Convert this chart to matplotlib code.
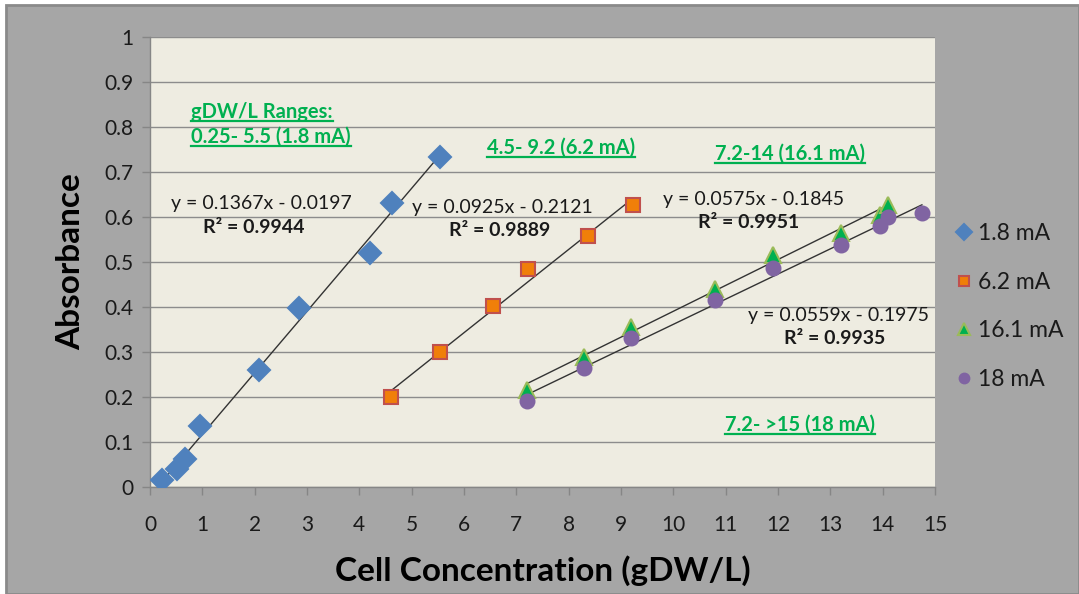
import matplotlib
matplotlib.use("Agg")
import matplotlib.pyplot as plt
import numpy as np
from matplotlib.patches import Rectangle
from matplotlib.lines import Line2D

plt.rcParams['font.family'] = ['Lato', 'DejaVu Sans']

# ---- data ----
series_labels = ["1.8 mA", "6.2 mA", "16.1 mA", "18 mA"]

x_18 = [0.23, 0.52, 0.67, 0.95, 2.09, 2.84, 4.20, 4.63, 5.54]
y_18 = [0.015, 0.040, 0.062, 0.135, 0.260, 0.398, 0.520, 0.632, 0.733]

x_62 = [4.6, 5.55, 6.55, 7.22, 8.36, 9.22]
y_62 = [0.200, 0.301, 0.402, 0.484, 0.558, 0.627]

x_161 = [7.2, 8.3, 9.2, 10.8, 11.9, 13.2, 13.95, 14.1]
y_161 = [0.215, 0.288, 0.356, 0.441, 0.515, 0.565, 0.605, 0.627]

x_180 = [7.2, 8.3, 9.2, 10.8, 11.9, 13.2, 13.95, 14.1, 14.75]
y_180 = [0.192, 0.265, 0.331, 0.416, 0.487, 0.538, 0.580, 0.600, 0.609]

slopes = [0.1367, 0.0925, 0.0575, 0.0559]
intercepts = [-0.0197, -0.2121, -0.1845, -0.1975]
eq_labels = ["y = 0.1367x - 0.0197", "y = 0.0925x - 0.2121",
             "y = 0.0575x - 0.1845", "y = 0.0559x - 0.1975"]
r2_labels = ["R² = 0.9944", "R² = 0.9889", "R² = 0.9951", "R² = 0.9935"]
range_labels = ["gDW/L Ranges:", "0.25- 5.5 (1.8 mA)", "4.5- 9.2 (6.2 mA)",
                "7.2-14 (16.1 mA)", "7.2- >15 (18 mA)"]

x_ticks = list(range(0, 16))
y_ticks = [0, 0.1, 0.2, 0.3, 0.4, 0.5, 0.6, 0.7, 0.8, 0.9, 1]
y_tick_labels = ["0", "0.1", "0.2", "0.3", "0.4", "0.5", "0.6", "0.7", "0.8", "0.9", "1"]

# ---- figure ----
W, H = 1079, 594
fig = plt.figure(figsize=(W / 100, H / 100), dpi=100)
fig.patch.set_facecolor("white")
bg = Rectangle((6 / W, 0), 1 - 6 / W, 1 - 5 / H, transform=fig.transFigure,
               facecolor="#a6a6a6", edgecolor="#8a8a8a", linewidth=2, zorder=-10)
fig.patches.append(bg)

ax = fig.add_axes([150 / W, 1 - 487 / H, (935 - 150) / W, (487 - 37) / H])
ax.set_zorder(1)
ax.set_facecolor("#eeece1")
ax.set_xlim(0, 15)
ax.set_ylim(0, 1)
for s in ["top", "right"]:
    ax.spines[s].set_visible(False)
for s in ["left", "bottom"]:
    ax.spines[s].set_color("#868686")
    ax.spines[s].set_linewidth(1)
ax.set_xticks(x_ticks)
ax.set_yticks(y_ticks)
ax.set_yticklabels(y_tick_labels)
ax.tick_params(axis="both", colors="#868686", labelcolor="#1a1a1a", labelsize=15,
               length=6, width=1, direction="out")
ax.tick_params(axis="x", pad=14)
ax.tick_params(axis="y", pad=6)
ax.yaxis.grid(True, color="#8c8c8c", linewidth=1)
ax.set_axisbelow(True)

ax.set_xlabel("Cell Concentration (gDW/L)", fontsize=24, fontweight="bold", labelpad=15)
ax.set_ylabel("Absorbance", fontsize=24, fontweight="bold", labelpad=14)

xs = [x_18, x_62, x_161, x_180]
ys = [y_18, y_62, y_161, y_180]
markers = ["D", "s", "^", "o"]
faces = ["#4f81bd", "#f07f09", "#00b050", "#8064a2"]
edges = ["#4f81bd", "#c0504d", "#9bbb59", "#8064a2"]
sizes = [11, 10, 12, 10]

# trend lines
for x, m, b in zip(xs, slopes, intercepts):
    xx = np.array([min(x), max(x)])
    ax.plot(xx, m * xx + b, color="#333333", linewidth=1, zorder=3)

for x, y, mk, fc, ec, ms, lab in zip(xs, ys, markers, faces, edges, sizes, series_labels):
    ax.plot(x, y, linestyle="none", marker=mk, markersize=ms, markerfacecolor=fc,
            markeredgecolor=ec, markeredgewidth=1.5, label=lab, zorder=4)

# equations
eq_pos = [(0.40, 0.631), (5.01, 0.622), (9.81, 0.640), (11.42, 0.380)]
r2_pos = [(1.02, 0.576), (5.72, 0.571), (10.48, 0.587), (12.11, 0.329)]
for (px, py), t in zip(eq_pos, eq_labels):
    ax.text(px, py, t, fontsize=14, color="#1a1a1a", ha="left", va="center", zorder=5)
for (px, py), t in zip(r2_pos, r2_labels):
    ax.text(px, py, t, fontsize=14, color="#1a1a1a", fontweight="bold", ha="left",
            va="center", zorder=5)

# range labels (green, underlined)
rng_pos = [(0.79, 0.833), (0.79, 0.778), (6.43, 0.753), (10.79, 0.740), (10.98, 0.138)]
rng_texts = []
for (px, py), t in zip(rng_pos, range_labels):
    rng_texts.append(ax.text(px, py, t, fontsize=14.5, color="#00b050", fontweight="bold",
                             ha="left", va="center", zorder=5))

leg = ax.legend(loc="upper left", bbox_to_anchor=(946 / W, 1 - 214 / H),
                bbox_transform=fig.transFigure, frameon=False, fontsize=16.5,
                labelspacing=1.2, handletextpad=0.2, handlelength=0.8,
                borderaxespad=0, markerscale=0.7)
for txt in leg.get_texts():
    txt.set_color("#1a1a1a")

fig.canvas.draw()
renderer = fig.canvas.get_renderer()
for t in rng_texts:
    bb = t.get_window_extent(renderer)
    yline = bb.y0 + 1
    ln = Line2D([bb.x0 / W, bb.x1 / W], [yline / H, yline / H],
                transform=fig.transFigure, color="#00b050", linewidth=1.6, zorder=5)
    fig.lines.append(ln)

fig.savefig("out.png", dpi=100, facecolor=fig.get_facecolor())
